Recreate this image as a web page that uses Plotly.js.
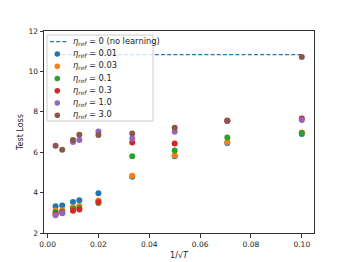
<!DOCTYPE html>
<html>
<head>
<meta charset="utf-8">
<script src="https://cdn.plot.ly/plotly-3.0.1.min.js"></script>
<style>html,body{margin:0;padding:0;background:#fff;}#chart{width:349px;height:262px;}</style>
</head>
<body>
<div id="chart"></div>
<script>
// 1/sqrt(T) positions
const xValues = [0.00316, 0.00577, 0.01, 0.0125, 0.02, 0.0333, 0.05, 0.0707, 0.1];
const etaLabels = ["0.01", "0.03", "0.1", "0.3", "1.0", "3.0"];
const loss_001 = [3.32, 3.36, 3.54, 3.62, 3.97, 4.78, 5.80, 6.45, 6.90];
const loss_003 = [3.11, 3.13, 3.28, 3.34, 3.61, 4.84, 5.85, 6.50, 6.98];
const loss_01  = [3.03, 3.06, 3.20, 3.24, 3.48, 5.80, 6.08, 6.73, 6.95];
const loss_03  = [2.95, 3.00, 3.10, 3.16, 3.53, 6.48, 6.43, 7.55, 7.67];
const loss_10  = [2.88, 2.98, 6.51, 6.61, 7.03, 6.68, 7.01, 7.55, 7.60];
const loss_30  = [6.32, 6.12, 6.61, 6.86, 6.85, 6.93, 7.21, 7.57, 10.71];
const noLearningLoss = 10.83;
const noLearningX = [0.00316, 0.1];
const xTicks = [0.00, 0.02, 0.04, 0.06, 0.08, 0.10];
const yTicks = [2, 4, 6, 8, 10, 12];

const colors = ["#1f77b4", "#ff7f0e", "#2ca02c", "#d62728", "#9467bd", "#8c564b"];
const series = [loss_001, loss_003, loss_01, loss_03, loss_10, loss_30];

const traces = [{
  x: noLearningX, y: noLearningX.map(() => noLearningLoss),
  mode: "lines", line: {color: "#1f77b4", dash: "4px,2.2px", width: 1.3},
  showlegend: false, hoverinfo: "skip"
}];
series.forEach((s, i) => {
  traces.push({x: xValues, y: s, mode: "markers", type: "scatter",
    marker: {color: colors[i], size: 6}, showlegend: false});
});

// manual legend (pixel layout -> paper coords)
const W = 349, H = 262, L = 44, R = 35, T = 31, B = 29;
const pw = W - L - R, ph = H - T - B;
const px = v => (v - L) / pw;
const py = v => (H - B - v) / ph;
const shapes = [{
  type: "rect", xref: "paper", yref: "paper",
  x0: px(47), x1: px(153), y0: py(121), y1: py(35),
  fillcolor: "rgba(255,255,255,0.8)", line: {color: "#cccccc", width: 1}, layer: "above"
}];
const annotations = [];
const rowY = [41.7, 54, 66.2, 78.5, 90.8, 103, 115.2];
shapes.push({type: "line", xref: "paper", yref: "paper",
  x0: px(50), x1: px(67), y0: py(rowY[0]), y1: py(rowY[0]),
  line: {color: "#1f77b4", dash: "4px,2.2px", width: 1.3}, layer: "above"});
const labels = ["<i>η</i><sub><i>ref</i></sub> = 0 (no learning)"].concat(
  etaLabels.map(e => "<i>η</i><sub><i>ref</i></sub> = " + e));
labels.forEach((t, i) => {
  annotations.push({xref: "paper", yref: "paper", x: px(71), y: py(rowY[i] - 0.5),
    xanchor: "left", yanchor: "middle", showarrow: false, text: t,
    font: {family: "DejaVu Sans", size: 8.3, color: "#222"}});
  if (i > 0) {
    shapes.push({type: "circle", xref: "paper", yref: "paper",
      xsizemode: "pixel", ysizemode: "pixel",
      xanchor: px(57.3), yanchor: py(rowY[i]),
      x0: -2.8, x1: 2.8, y0: -2.8, y1: 2.8,
      fillcolor: colors[i - 1], line: {width: 0}, layer: "above"});
  }
});

const layout = {
  width: W, height: H,
  margin: {l: L, r: R, t: T, b: B},
  paper_bgcolor: "#fff", plot_bgcolor: "#fff",
  font: {family: "DejaVu Sans", size: 7.5, color: "#222"},
  xaxis: {range: [-0.0014, 0.1048], tickvals: xTicks, tickformat: ".2f",
    showgrid: false, zeroline: false, showline: true, mirror: true,
    linecolor: "#333", linewidth: 1, ticks: "outside", ticklen: 3.5, tickcolor: "#333",
    title: {text: "1/√<i>T</i>", font: {size: 8}, standoff: 4}},
  yaxis: {range: [2, 12], tickvals: yTicks,
    showgrid: false, zeroline: false, showline: true, mirror: true,
    linecolor: "#333", linewidth: 1, ticks: "outside", ticklen: 3.5, tickcolor: "#333",
    title: {text: "Test Loss", font: {size: 8}, standoff: 3}},
  shapes: shapes, annotations: annotations, showlegend: false
};
Plotly.newPlot("chart", traces, layout, {staticPlot: true, displayModeBar: false});
</script>
</body>
</html>
